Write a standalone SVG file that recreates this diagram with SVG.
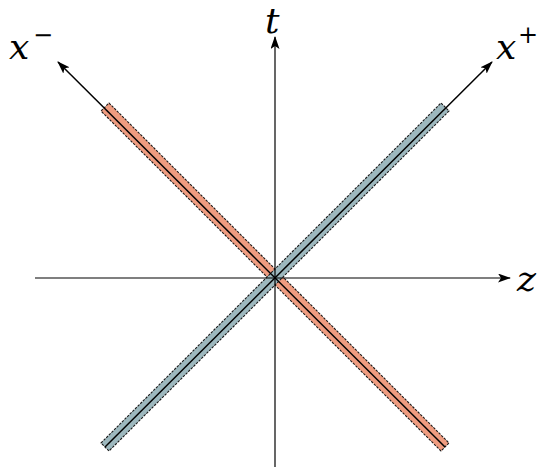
<svg xmlns="http://www.w3.org/2000/svg" width="538" height="471" viewBox="0 0 538 471">
<defs>
<marker id="arr" viewBox="0 0 13 9" refX="12" refY="4.5" markerWidth="13" markerHeight="9" markerUnits="userSpaceOnUse" orient="auto">
<path d="M0,0 L13,4.5 L0,9 L3,4.5 Z" fill="#000"/>
</marker>
</defs>
<style>
.ax{stroke:#000;stroke-width:1.2;fill:none}
.diag{stroke-width:1.5}
.band{stroke:#1a1a1a;stroke-width:1.1;stroke-dasharray:2.5 1.2}
.plus{fill:#9DB8BE}
.minus{fill:#EF9C80}
</style>
<g id="bands">
<g id="band-minus">
<polygon class="band minus" points="109,103 449,443 441,451 101,111"/>
</g>
<g id="band-plus">
<polygon class="band plus" points="101,443 441,103 449,111 109,451"/>
</g>
</g>
<g id="connectors">
<line class="ax" x1="35" y1="278" x2="510" y2="278" marker-end="url(#arr)"/>
<line class="ax" x1="275" y1="467" x2="275" y2="37" marker-end="url(#arr)"/>
<line class="ax diag" x1="105" y1="447" x2="492" y2="62" marker-end="url(#arr)"/>
<line class="ax diag" x1="445" y1="447" x2="58" y2="62" marker-end="url(#arr)"/>
</g>
<g font-family="'DejaVu Serif', 'Liberation Serif', serif" fill="#000">
<g id="label-t"><text x="265" y="33" font-size="36" font-style="italic">t</text></g>
<g id="label-z"><text x="517" y="291" font-size="36" font-style="italic">z</text></g>
<g id="label-xminus"><text x="9" y="59" font-size="36" font-style="italic">x</text><text x="33" y="43" font-size="24">−</text></g>
<g id="label-xplus"><text x="496" y="59" font-size="36" font-style="italic">x</text><text x="518" y="43" font-size="24">+</text></g>
</g>
</svg>
